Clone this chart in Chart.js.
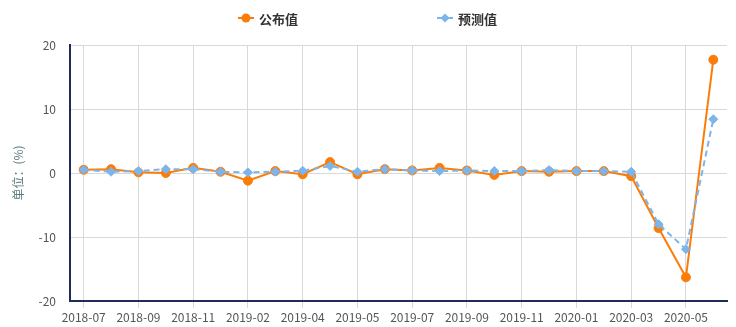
<!DOCTYPE html>
<html>
<head>
<meta charset="utf-8">
<script src="https://cdn.jsdelivr.net/npm/chart.js@4"></script>
<style>
  html, body { margin: 0; padding: 0; background: #fff; }
  #wrap { width: 736px; height: 327px; position: relative; }
</style>
</head>
<body>
<div id="wrap"><canvas id="chart"></canvas></div>
<script>
(function() {
    'use strict';

    const months = [
        '2018-07', '2018-08', '2018-09', '2018-10', '2018-11', '2018-12',
        '2019-02', '2019-03', '2019-04', '2019-04', '2019-05', '2019-06',
        '2019-07', '2019-08', '2019-09', '2019-10', '2019-11', '2019-12',
        '2020-01', '2020-02', '2020-03', '2020-04', '2020-05', '2020-06'
    ];
    const published = [
        0.5, 0.6, 0.1, 0.0, 0.8, 0.2,
        -1.2, 0.3, -0.2, 1.7, -0.2, 0.6,
        0.4, 0.8, 0.4, -0.3, 0.3, 0.2,
        0.3, 0.3, -0.5, -8.6, -16.3, 17.7
    ];
    const forecast = [
        0.5, 0.2, 0.3, 0.6, 0.6, 0.2,
        0.1, 0.2, 0.35, 1.1, 0.2, 0.6,
        0.4, 0.3, 0.4, 0.3, 0.3, 0.45,
        0.3, 0.3, 0.2, -8.0, -11.9, 8.4
    ];
    const seriesNames = ['公布值', '预测值'];
    const yTicks = [-20, -10, 0, 10, 20];

    const ORANGE = '#fb7d09';
    const BLUE = '#7cb5ec';
    const NAVY = '#1f2b5b';
    const GRID = '#d9d9d9';
    const FONT = "'Noto Sans CJK SC', 'Noto Sans', sans-serif";

    const legendPlugin = {
        id: 'lineLegend',
        afterDraw: function(chart) {
            const ctx = chart.ctx;
            const mid = chart.width / 2;
            const items = [
                { x: mid - 130, color: ORANGE, dash: [], style: 'circle', text: seriesNames[0] },
                { x: mid + 69, color: BLUE, dash: [], style: 'diamond', text: seriesNames[1] }
            ];
            const y = 18;
            ctx.save();
            items.forEach(function(it) {
                ctx.strokeStyle = it.color;
                ctx.fillStyle = it.color;
                ctx.lineWidth = 2;
                ctx.setLineDash(it.dash);
                ctx.beginPath();
                ctx.moveTo(it.x, y);
                ctx.lineTo(it.x + 16, y);
                ctx.stroke();
                ctx.beginPath();
                if (it.style === 'circle') {
                    ctx.arc(it.x + 8, y, 4.5, 0, Math.PI * 2);
                } else {
                    ctx.moveTo(it.x + 8, y - 4.5);
                    ctx.lineTo(it.x + 12.5, y);
                    ctx.lineTo(it.x + 8, y + 4.5);
                    ctx.lineTo(it.x + 3.5, y);
                    ctx.closePath();
                }
                ctx.fill();
                ctx.fillStyle = '#333';
                ctx.font = 'bold 13px ' + FONT;
                ctx.textBaseline = 'middle';
                ctx.textAlign = 'left';
                ctx.fillText(it.text, it.x + 21, y + 1);
            });
            ctx.restore();
        }
    };

    new Chart(document.getElementById('chart'), {
        type: 'line',
        data: {
            labels: months,
            datasets: [
                {
                    label: seriesNames[0],
                    data: published,
                    borderColor: ORANGE,
                    backgroundColor: ORANGE,
                    borderWidth: 2,
                    pointStyle: 'circle',
                    pointRadius: 4.5,
                    pointBorderWidth: 1,
                    pointHoverRadius: 5,
                    tension: 0,
                    order: 1
                },
                {
                    label: seriesNames[1],
                    data: forecast,
                    borderColor: BLUE,
                    backgroundColor: BLUE,
                    borderWidth: 2,
                    borderDash: [6, 4],
                    pointStyle: 'rectRot',
                    pointRadius: 4.5,
                    pointBorderWidth: 1,
                    pointHoverRadius: 5,
                    tension: 0,
                    order: 0
                }
            ]
        },
        options: {
            responsive: true,
            maintainAspectRatio: false,
            animation: false,
            layout: { padding: { top: 45, right: 9, bottom: 0, left: 0 } },
            plugins: {
                legend: { display: false },
                tooltip: { enabled: true }
            },
            scales: {
                x: {
                    offset: true,
                    afterFit: function(scale) { scale.height = 26; },
                    grid: {
                        color: function(c) { return c.index % 2 === 0 ? GRID : 'rgba(0,0,0,0)'; },
                        tickLength: 7,
                        offset: false
                    },
                    border: { color: NAVY, width: 2 },
                    ticks: {
                        autoSkip: false,
                        maxRotation: 0,
                        padding: 2,
                        color: '#555',
                        font: { family: FONT, size: 12 },
                        callback: function(v, i) { return i % 2 === 0 ? months[i] : ''; }
                    }
                },
                y: {
                    min: yTicks[0],
                    max: yTicks[yTicks.length - 1],
                    afterFit: function(scale) { scale.width = 70; },
                    afterBuildTicks: function(scale) {
                        scale.ticks = yTicks.map(function(v) { return { value: v }; });
                    },
                    grid: { color: GRID, drawTicks: false },
                    border: { color: NAVY, width: 2 },
                    ticks: {
                        padding: 14,
                        color: '#555',
                        font: { family: FONT, size: 12 }
                    },
                    title: {
                        display: true,
                        text: '单位：(%)',
                        color: '#5b7b7b',
                        font: { family: FONT, size: 12 },
                        padding: { top: 11, bottom: 0 }
                    }
                }
            }
        },
        plugins: [legendPlugin]
    });
})();
</script>
</body>
</html>
